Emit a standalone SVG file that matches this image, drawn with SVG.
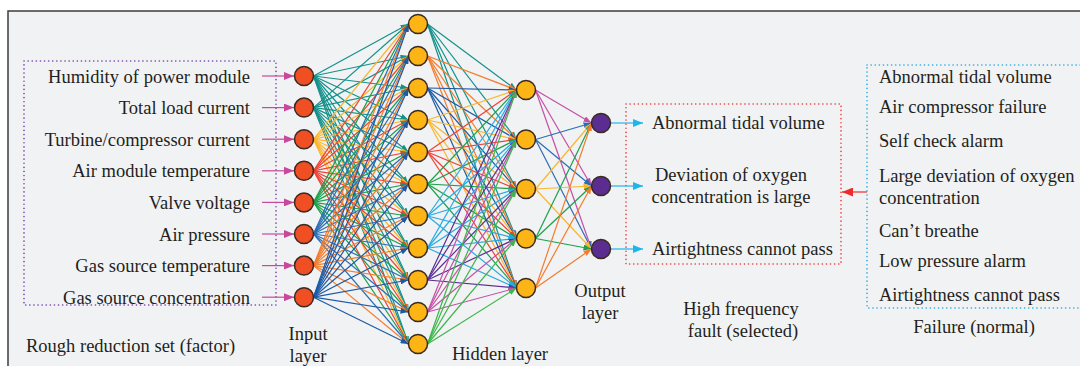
<svg xmlns="http://www.w3.org/2000/svg" width="1080" height="366" viewBox="0 0 1080 366">
<style>
text{font-family:"Liberation Serif","Times New Roman",serif;font-size:18.5px;fill:#231f20}
.e{text-anchor:end}.m{text-anchor:middle}
.n line{stroke-width:1.2;fill:none}
.teal{stroke:#13918a;marker-end:url(#mteal)}
.yel{stroke:#fbb62b;marker-end:url(#myel)}
.red{stroke:#ef4136;marker-end:url(#mred)}
.grn{stroke:#1ca04a;marker-end:url(#mgrn)}
.blu{stroke:#2a6db5;marker-end:url(#mblu)}
.dbl{stroke:#1c5aa6;marker-end:url(#mdbl)}
.org{stroke:#f47c2c;marker-end:url(#morg)}
.lbl{stroke:#27aae1;marker-end:url(#mlbl)}
.pur{stroke:#5b2e91;marker-end:url(#mpur)}
.mag{stroke:#c350a5;marker-end:url(#mmag)}
.lgr{stroke:#3db54a;marker-end:url(#mlgr)}
.inp{fill:#f04e23;stroke:#3a2a22;stroke-width:1.5}
.hid{fill:#fdb515;stroke:#3a2a22;stroke-width:1.5}
.out{fill:#5c2d91;stroke:#3a2a22;stroke-width:1.5}
.pink{stroke:#c8489b;stroke-width:1.6;marker-end:url(#mpink)}
.cy{stroke:#1fb5ec;stroke-width:1.6;marker-end:url(#mcy)}
</style>
<defs>
<marker id="mteal" markerUnits="userSpaceOnUse" markerWidth="8" markerHeight="6" refX="8" refY="3" orient="auto" viewBox="0 0 8 6"><path d="M0,0L8,3L0,6z" fill="#13918a"/></marker>
<marker id="myel" markerUnits="userSpaceOnUse" markerWidth="8" markerHeight="6" refX="8" refY="3" orient="auto" viewBox="0 0 8 6"><path d="M0,0L8,3L0,6z" fill="#fbb62b"/></marker>
<marker id="mred" markerUnits="userSpaceOnUse" markerWidth="8" markerHeight="6" refX="8" refY="3" orient="auto" viewBox="0 0 8 6"><path d="M0,0L8,3L0,6z" fill="#ef4136"/></marker>
<marker id="mgrn" markerUnits="userSpaceOnUse" markerWidth="8" markerHeight="6" refX="8" refY="3" orient="auto" viewBox="0 0 8 6"><path d="M0,0L8,3L0,6z" fill="#1ca04a"/></marker>
<marker id="mblu" markerUnits="userSpaceOnUse" markerWidth="8" markerHeight="6" refX="8" refY="3" orient="auto" viewBox="0 0 8 6"><path d="M0,0L8,3L0,6z" fill="#2a6db5"/></marker>
<marker id="mdbl" markerUnits="userSpaceOnUse" markerWidth="8" markerHeight="6" refX="8" refY="3" orient="auto" viewBox="0 0 8 6"><path d="M0,0L8,3L0,6z" fill="#1c5aa6"/></marker>
<marker id="morg" markerUnits="userSpaceOnUse" markerWidth="8" markerHeight="6" refX="8" refY="3" orient="auto" viewBox="0 0 8 6"><path d="M0,0L8,3L0,6z" fill="#f47c2c"/></marker>
<marker id="mlbl" markerUnits="userSpaceOnUse" markerWidth="8" markerHeight="6" refX="8" refY="3" orient="auto" viewBox="0 0 8 6"><path d="M0,0L8,3L0,6z" fill="#27aae1"/></marker>
<marker id="mpur" markerUnits="userSpaceOnUse" markerWidth="8" markerHeight="6" refX="8" refY="3" orient="auto" viewBox="0 0 8 6"><path d="M0,0L8,3L0,6z" fill="#5b2e91"/></marker>
<marker id="mmag" markerUnits="userSpaceOnUse" markerWidth="8" markerHeight="6" refX="8" refY="3" orient="auto" viewBox="0 0 8 6"><path d="M0,0L8,3L0,6z" fill="#c350a5"/></marker>
<marker id="mlgr" markerUnits="userSpaceOnUse" markerWidth="8" markerHeight="6" refX="8" refY="3" orient="auto" viewBox="0 0 8 6"><path d="M0,0L8,3L0,6z" fill="#3db54a"/></marker>
<marker id="mpink" markerUnits="userSpaceOnUse" markerWidth="10" markerHeight="8" refX="10" refY="4" orient="auto" viewBox="0 0 10 8"><path d="M0,0L10,4L0,8z" fill="#c8489b"/></marker>
<marker id="mcy" markerUnits="userSpaceOnUse" markerWidth="10" markerHeight="8" refX="10" refY="4" orient="auto" viewBox="0 0 10 8"><path d="M0,0L10,4L0,8z" fill="#1fb5ec"/></marker>
<marker id="mrd" markerUnits="userSpaceOnUse" markerWidth="11" markerHeight="9" refX="11" refY="4.5" orient="auto" viewBox="0 0 11 9"><path d="M0,0L11,4.5L0,9z" fill="#ee2a2a"/></marker>
</defs>
<rect x="0" y="0" width="1080" height="366" fill="#ffffff"/>
<rect x="8" y="11" width="1100" height="400" fill="#f1f2f4" stroke="#3d3d3d" stroke-width="1.5"/>

<g id="boxes" fill="none" stroke-width="1.6" stroke-linecap="round">
<rect x="24" y="61" width="252" height="244" stroke="#7b3fa8" stroke-dasharray="0.1 4"/>
<rect x="626" y="104" width="215" height="160" stroke="#ee3a3a" stroke-dasharray="0.1 4"/>
<rect x="867" y="65" width="230" height="243" stroke="#29aae1" stroke-dasharray="0.1 4"/>
</g>

<g id="connectors" class="n">
<g class="teal">
<line x1="313.5" y1="76" x2="408.5" y2="24"/><line x1="313.5" y1="76" x2="408.5" y2="56"/><line x1="313.5" y1="76" x2="408.5" y2="88"/><line x1="313.5" y1="76" x2="408.5" y2="120"/><line x1="313.5" y1="76" x2="408.5" y2="152"/><line x1="313.5" y1="76" x2="408.5" y2="184"/><line x1="313.5" y1="76" x2="408.5" y2="216"/><line x1="313.5" y1="76" x2="408.5" y2="248"/><line x1="313.5" y1="76" x2="408.5" y2="280"/><line x1="313.5" y1="76" x2="408.5" y2="312"/><line x1="313.5" y1="76" x2="408.5" y2="344"/>
<line x1="313.5" y1="107.6" x2="408.5" y2="24"/><line x1="313.5" y1="107.6" x2="408.5" y2="56"/><line x1="313.5" y1="107.6" x2="408.5" y2="88"/><line x1="313.5" y1="107.6" x2="408.5" y2="120"/><line x1="313.5" y1="107.6" x2="408.5" y2="152"/><line x1="313.5" y1="107.6" x2="408.5" y2="184"/><line x1="313.5" y1="107.6" x2="408.5" y2="216"/><line x1="313.5" y1="107.6" x2="408.5" y2="248"/><line x1="313.5" y1="107.6" x2="408.5" y2="280"/><line x1="313.5" y1="107.6" x2="408.5" y2="312"/><line x1="313.5" y1="107.6" x2="408.5" y2="344"/>
</g>
<g class="yel">
<line x1="313.5" y1="139.2" x2="408.5" y2="24"/><line x1="313.5" y1="139.2" x2="408.5" y2="56"/><line x1="313.5" y1="139.2" x2="408.5" y2="88"/><line x1="313.5" y1="139.2" x2="408.5" y2="120"/><line x1="313.5" y1="139.2" x2="408.5" y2="152"/><line x1="313.5" y1="139.2" x2="408.5" y2="184"/><line x1="313.5" y1="139.2" x2="408.5" y2="216"/><line x1="313.5" y1="139.2" x2="408.5" y2="248"/><line x1="313.5" y1="139.2" x2="408.5" y2="280"/><line x1="313.5" y1="139.2" x2="408.5" y2="312"/><line x1="313.5" y1="139.2" x2="408.5" y2="344"/>
</g>
<g class="red">
<line x1="313.5" y1="170.8" x2="408.5" y2="24"/><line x1="313.5" y1="170.8" x2="408.5" y2="56"/><line x1="313.5" y1="170.8" x2="408.5" y2="88"/><line x1="313.5" y1="170.8" x2="408.5" y2="120"/><line x1="313.5" y1="170.8" x2="408.5" y2="152"/><line x1="313.5" y1="170.8" x2="408.5" y2="184"/><line x1="313.5" y1="170.8" x2="408.5" y2="216"/><line x1="313.5" y1="170.8" x2="408.5" y2="248"/><line x1="313.5" y1="170.8" x2="408.5" y2="280"/><line x1="313.5" y1="170.8" x2="408.5" y2="312"/><line x1="313.5" y1="170.8" x2="408.5" y2="344"/>
</g>
<g class="grn">
<line x1="313.5" y1="202.4" x2="408.5" y2="24"/><line x1="313.5" y1="202.4" x2="408.5" y2="56"/><line x1="313.5" y1="202.4" x2="408.5" y2="88"/><line x1="313.5" y1="202.4" x2="408.5" y2="120"/><line x1="313.5" y1="202.4" x2="408.5" y2="152"/><line x1="313.5" y1="202.4" x2="408.5" y2="184"/><line x1="313.5" y1="202.4" x2="408.5" y2="216"/><line x1="313.5" y1="202.4" x2="408.5" y2="248"/><line x1="313.5" y1="202.4" x2="408.5" y2="280"/><line x1="313.5" y1="202.4" x2="408.5" y2="312"/><line x1="313.5" y1="202.4" x2="408.5" y2="344"/>
</g>
<g class="blu">
<line x1="313.5" y1="234" x2="408.5" y2="24"/><line x1="313.5" y1="234" x2="408.5" y2="56"/><line x1="313.5" y1="234" x2="408.5" y2="88"/><line x1="313.5" y1="234" x2="408.5" y2="120"/><line x1="313.5" y1="234" x2="408.5" y2="152"/><line x1="313.5" y1="234" x2="408.5" y2="184"/><line x1="313.5" y1="234" x2="408.5" y2="216"/><line x1="313.5" y1="234" x2="408.5" y2="248"/><line x1="313.5" y1="234" x2="408.5" y2="280"/><line x1="313.5" y1="234" x2="408.5" y2="312"/><line x1="313.5" y1="234" x2="408.5" y2="344"/>
</g>
<g class="org">
<line x1="313.5" y1="265.6" x2="408.5" y2="24"/><line x1="313.5" y1="265.6" x2="408.5" y2="56"/><line x1="313.5" y1="265.6" x2="408.5" y2="88"/><line x1="313.5" y1="265.6" x2="408.5" y2="120"/><line x1="313.5" y1="265.6" x2="408.5" y2="152"/><line x1="313.5" y1="265.6" x2="408.5" y2="184"/><line x1="313.5" y1="265.6" x2="408.5" y2="216"/><line x1="313.5" y1="265.6" x2="408.5" y2="248"/><line x1="313.5" y1="265.6" x2="408.5" y2="280"/><line x1="313.5" y1="265.6" x2="408.5" y2="312"/><line x1="313.5" y1="265.6" x2="408.5" y2="344"/>
</g>
<g class="dbl">
<line x1="313.5" y1="297.2" x2="408.5" y2="24"/><line x1="313.5" y1="297.2" x2="408.5" y2="56"/><line x1="313.5" y1="297.2" x2="408.5" y2="88"/><line x1="313.5" y1="297.2" x2="408.5" y2="120"/><line x1="313.5" y1="297.2" x2="408.5" y2="152"/><line x1="313.5" y1="297.2" x2="408.5" y2="184"/><line x1="313.5" y1="297.2" x2="408.5" y2="216"/><line x1="313.5" y1="297.2" x2="408.5" y2="248"/><line x1="313.5" y1="297.2" x2="408.5" y2="280"/><line x1="313.5" y1="297.2" x2="408.5" y2="312"/><line x1="313.5" y1="297.2" x2="408.5" y2="344"/>
</g>

<g class="teal"><line x1="427.5" y1="24" x2="516.5" y2="90"/><line x1="427.5" y1="24" x2="516.5" y2="139.5"/><line x1="427.5" y1="24" x2="516.5" y2="189"/><line x1="427.5" y1="24" x2="516.5" y2="238.5"/><line x1="427.5" y1="24" x2="516.5" y2="288"/></g>
<g class="org"><line x1="427.5" y1="56" x2="516.5" y2="90"/><line x1="427.5" y1="56" x2="516.5" y2="139.5"/><line x1="427.5" y1="56" x2="516.5" y2="189"/><line x1="427.5" y1="56" x2="516.5" y2="238.5"/><line x1="427.5" y1="56" x2="516.5" y2="288"/></g>
<g class="dbl"><line x1="427.5" y1="88" x2="516.5" y2="90"/><line x1="427.5" y1="88" x2="516.5" y2="139.5"/><line x1="427.5" y1="88" x2="516.5" y2="189"/><line x1="427.5" y1="88" x2="516.5" y2="238.5"/><line x1="427.5" y1="88" x2="516.5" y2="288"/></g>
<g class="yel"><line x1="427.5" y1="120" x2="516.5" y2="90"/><line x1="427.5" y1="120" x2="516.5" y2="139.5"/><line x1="427.5" y1="120" x2="516.5" y2="189"/><line x1="427.5" y1="120" x2="516.5" y2="238.5"/><line x1="427.5" y1="120" x2="516.5" y2="288"/></g>
<g class="red"><line x1="427.5" y1="152" x2="516.5" y2="90"/><line x1="427.5" y1="152" x2="516.5" y2="139.5"/><line x1="427.5" y1="152" x2="516.5" y2="189"/><line x1="427.5" y1="152" x2="516.5" y2="238.5"/><line x1="427.5" y1="152" x2="516.5" y2="288"/></g>
<g class="grn"><line x1="427.5" y1="184" x2="516.5" y2="90"/><line x1="427.5" y1="184" x2="516.5" y2="139.5"/><line x1="427.5" y1="184" x2="516.5" y2="189"/><line x1="427.5" y1="184" x2="516.5" y2="238.5"/><line x1="427.5" y1="184" x2="516.5" y2="288"/></g>
<g class="lbl"><line x1="427.5" y1="216" x2="516.5" y2="90"/><line x1="427.5" y1="216" x2="516.5" y2="139.5"/><line x1="427.5" y1="216" x2="516.5" y2="189"/><line x1="427.5" y1="216" x2="516.5" y2="238.5"/><line x1="427.5" y1="216" x2="516.5" y2="288"/>
<line x1="427.5" y1="248" x2="516.5" y2="90"/><line x1="427.5" y1="248" x2="516.5" y2="139.5"/><line x1="427.5" y1="248" x2="516.5" y2="189"/><line x1="427.5" y1="248" x2="516.5" y2="238.5"/><line x1="427.5" y1="248" x2="516.5" y2="288"/></g>
<g class="pur"><line x1="427.5" y1="280" x2="516.5" y2="90"/><line x1="427.5" y1="280" x2="516.5" y2="139.5"/><line x1="427.5" y1="280" x2="516.5" y2="189"/><line x1="427.5" y1="280" x2="516.5" y2="238.5"/><line x1="427.5" y1="280" x2="516.5" y2="288"/></g>
<g class="mag"><line x1="427.5" y1="312" x2="516.5" y2="90"/><line x1="427.5" y1="312" x2="516.5" y2="139.5"/><line x1="427.5" y1="312" x2="516.5" y2="189"/><line x1="427.5" y1="312" x2="516.5" y2="238.5"/><line x1="427.5" y1="312" x2="516.5" y2="288"/></g>
<g class="lgr"><line x1="427.5" y1="344" x2="516.5" y2="90"/><line x1="427.5" y1="344" x2="516.5" y2="139.5"/><line x1="427.5" y1="344" x2="516.5" y2="189"/><line x1="427.5" y1="344" x2="516.5" y2="238.5"/><line x1="427.5" y1="344" x2="516.5" y2="288"/></g>

<g class="mag"><line x1="535.5" y1="90" x2="591.5" y2="123"/><line x1="535.5" y1="90" x2="591.5" y2="186"/><line x1="535.5" y1="90" x2="591.5" y2="249"/></g>
<g class="blu"><line x1="535.5" y1="139.5" x2="591.5" y2="123"/><line x1="535.5" y1="139.5" x2="591.5" y2="186"/><line x1="535.5" y1="139.5" x2="591.5" y2="249"/></g>
<g class="yel"><line x1="535.5" y1="189" x2="591.5" y2="123"/><line x1="535.5" y1="189" x2="591.5" y2="186"/><line x1="535.5" y1="189" x2="591.5" y2="249"/></g>
<g class="grn"><line x1="535.5" y1="238.5" x2="591.5" y2="123"/><line x1="535.5" y1="238.5" x2="591.5" y2="186"/><line x1="535.5" y1="238.5" x2="591.5" y2="249"/></g>
<g class="org"><line x1="535.5" y1="288" x2="591.5" y2="123"/><line x1="535.5" y1="288" x2="591.5" y2="186"/><line x1="535.5" y1="288" x2="591.5" y2="249"/></g>

<g class="pink">
<line x1="262" y1="76" x2="294" y2="76"/><line x1="262" y1="107.6" x2="294" y2="107.6"/><line x1="262" y1="139.2" x2="294" y2="139.2"/><line x1="262" y1="170.8" x2="294" y2="170.8"/><line x1="262" y1="202.4" x2="294" y2="202.4"/><line x1="262" y1="234" x2="294" y2="234"/><line x1="262" y1="265.6" x2="294" y2="265.6"/><line x1="262" y1="297.2" x2="294" y2="297.2"/>
</g>
<g class="cy">
<line x1="611" y1="123" x2="643" y2="123"/><line x1="611" y1="186" x2="643" y2="186"/><line x1="611" y1="249" x2="643" y2="249"/>
</g>
<line x1="867" y1="192" x2="842" y2="192" stroke="#ee2a2a" stroke-width="1.6" marker-end="url(#mrd)"/>
</g>

<g id="input-layer">
<circle class="inp" cx="304" cy="76" r="9.5"/><circle class="inp" cx="304" cy="107.6" r="9.5"/><circle class="inp" cx="304" cy="139.2" r="9.5"/><circle class="inp" cx="304" cy="170.8" r="9.5"/><circle class="inp" cx="304" cy="202.4" r="9.5"/><circle class="inp" cx="304" cy="234" r="9.5"/><circle class="inp" cx="304" cy="265.6" r="9.5"/><circle class="inp" cx="304" cy="297.2" r="9.5"/>
</g>
<g id="hidden-layer-1">
<circle class="hid" cx="418" cy="24" r="9.5"/><circle class="hid" cx="418" cy="56" r="9.5"/><circle class="hid" cx="418" cy="88" r="9.5"/><circle class="hid" cx="418" cy="120" r="9.5"/><circle class="hid" cx="418" cy="152" r="9.5"/><circle class="hid" cx="418" cy="184" r="9.5"/><circle class="hid" cx="418" cy="216" r="9.5"/><circle class="hid" cx="418" cy="248" r="9.5"/><circle class="hid" cx="418" cy="280" r="9.5"/><circle class="hid" cx="418" cy="312" r="9.5"/><circle class="hid" cx="418" cy="344" r="9.5"/>
</g>
<g id="hidden-layer-2">
<circle class="hid" cx="526" cy="90" r="9.5"/><circle class="hid" cx="526" cy="139.5" r="9.5"/><circle class="hid" cx="526" cy="189" r="9.5"/><circle class="hid" cx="526" cy="238.5" r="9.5"/><circle class="hid" cx="526" cy="288" r="9.5"/>
</g>
<g id="output-layer">
<circle class="out" cx="601" cy="123" r="9.5"/><circle class="out" cx="601" cy="186" r="9.5"/><circle class="out" cx="601" cy="249" r="9.5"/>
</g>

<g id="factors">
<text class="e" x="250" y="82.5">Humidity of power module</text>
<text class="e" x="250" y="114">Total load current</text>
<text class="e" x="250" y="145.7">Turbine/compressor current</text>
<text class="e" x="250" y="177.3">Air module temperature</text>
<text class="e" x="250" y="208.9">Valve voltage</text>
<text class="e" x="250" y="240.5">Air pressure</text>
<text class="e" x="250" y="272.1">Gas source temperature</text>
<text class="e" x="250" y="303.7">Gas source concentration</text>
<text x="26" y="352">Rough reduction set (factor)</text>
</g>
<g id="layer-labels">
<text class="m" x="308" y="340">Input</text>
<text class="m" x="308" y="362">layer</text>
<text class="m" x="500" y="360">Hidden layer</text>
<text class="m" x="600" y="297">Output</text>
<text class="m" x="600" y="319">layer</text>
</g>
<g id="selected-faults">
<text x="652" y="129">Abnormal tidal volume</text>
<text class="m" x="731" y="181">Deviation of oxygen</text>
<text class="m" x="731" y="203">concentration is large</text>
<text x="652" y="255">Airtightness cannot pass</text>
<text class="m" x="741" y="315">High frequency</text>
<text class="m" x="743" y="337">fault (selected)</text>
</g>
<g id="normal-faults">
<text x="879" y="83">Abnormal tidal volume</text>
<text x="879" y="113">Air compressor failure</text>
<text x="879" y="147">Self check alarm</text>
<text x="879" y="182">Large deviation of oxygen</text>
<text x="879" y="204">concentration</text>
<text x="879" y="237">Can’t breathe</text>
<text x="879" y="267">Low pressure alarm</text>
<text x="879" y="301">Airtightness cannot pass</text>
<text class="m" x="974" y="333">Failure (normal)</text>
</g>
</svg>
